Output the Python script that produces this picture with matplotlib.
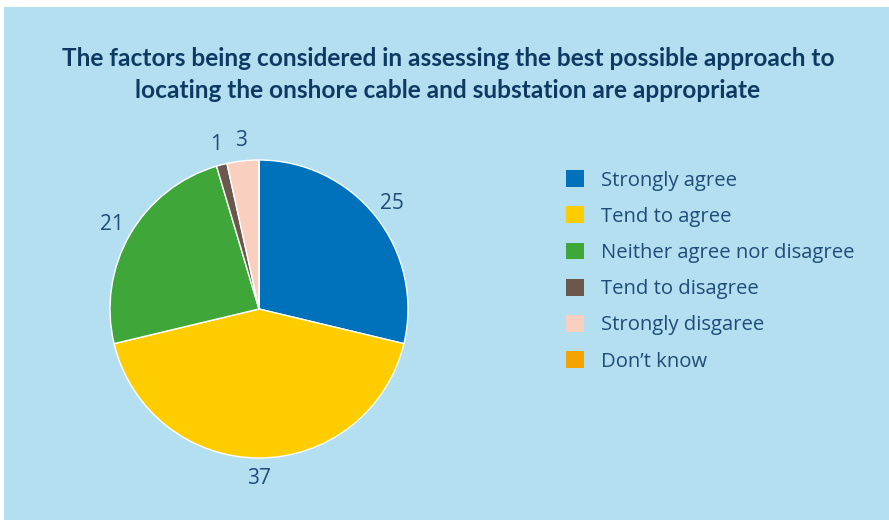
import matplotlib.pyplot as plt
from matplotlib.patches import Rectangle, Patch

# survey responses
categories = ["Strongly agree", "Tend to agree", "Neither agree nor disagree",
              "Tend to disagree", "Strongly disgaree", "Don\u2019t know"]
values = [25, 37, 21, 1, 3, 0]
colors = ["#0072bc", "#ffcc00", "#3fa73a", "#6b574b", "#f9cfc0", "#f5a300"]

title = ("The factors being considered in assessing the best possible approach to\n"
         "locating the onshore cable and substation are appropriate")

bg = "#b3dff0"
text_col = "#1e4d78"
title_col = "#0d3a63"

plt.rcParams['font.family'] = ['Open Sans', 'DejaVu Sans']

fig = plt.figure(figsize=(8.89, 5.2), dpi=100, facecolor="white")
W, H = 889, 520
fig.add_artist(Rectangle((4 / W, 0), 1, (H - 7) / H, transform=fig.transFigure,
                         facecolor=bg, edgecolor="none", zorder=0))

fig.text(448 / W, 1 - 74.5 / H, title, ha="center", va="center", fontsize=17.6,
         fontweight="bold", color=title_col, linespacing=1.45,
         family=['Lato', 'DejaVu Sans'])

# pie axes: centre (259, 309), radius 149 px
r = 149
ax = fig.add_axes([(259 - r) / W, (H - 309 - r) / H, 2 * r / W, 2 * r / H])
ax.set_facecolor("none")
labels = [str(v) if v else "" for v in values]
wedges, texts = ax.pie(values, labels=labels, colors=colors, startangle=90,
                       counterclock=False, labeldistance=1.14,
                       wedgeprops=dict(edgecolor="white", linewidth=1),
                       textprops=dict(color=text_col, fontsize=15))
for t in texts:
    t.set_ha("center")
    t.set_va("center")
ax.set_xlim(-1, 1)
ax.set_ylim(-1, 1)
ax.set_aspect("equal")

handles = [Patch(facecolor=c, edgecolor="none") for c in colors]
fig.legend(handles, categories, loc="upper left",
           bbox_to_anchor=(558 / W, 1 - 162 / H), frameon=False,
           fontsize=14.6, labelcolor=text_col, handlelength=0.9, handleheight=0.9,
           handletextpad=0.8, labelspacing=0.78, borderaxespad=0)

fig.savefig("out.png", dpi=100, facecolor="white")
